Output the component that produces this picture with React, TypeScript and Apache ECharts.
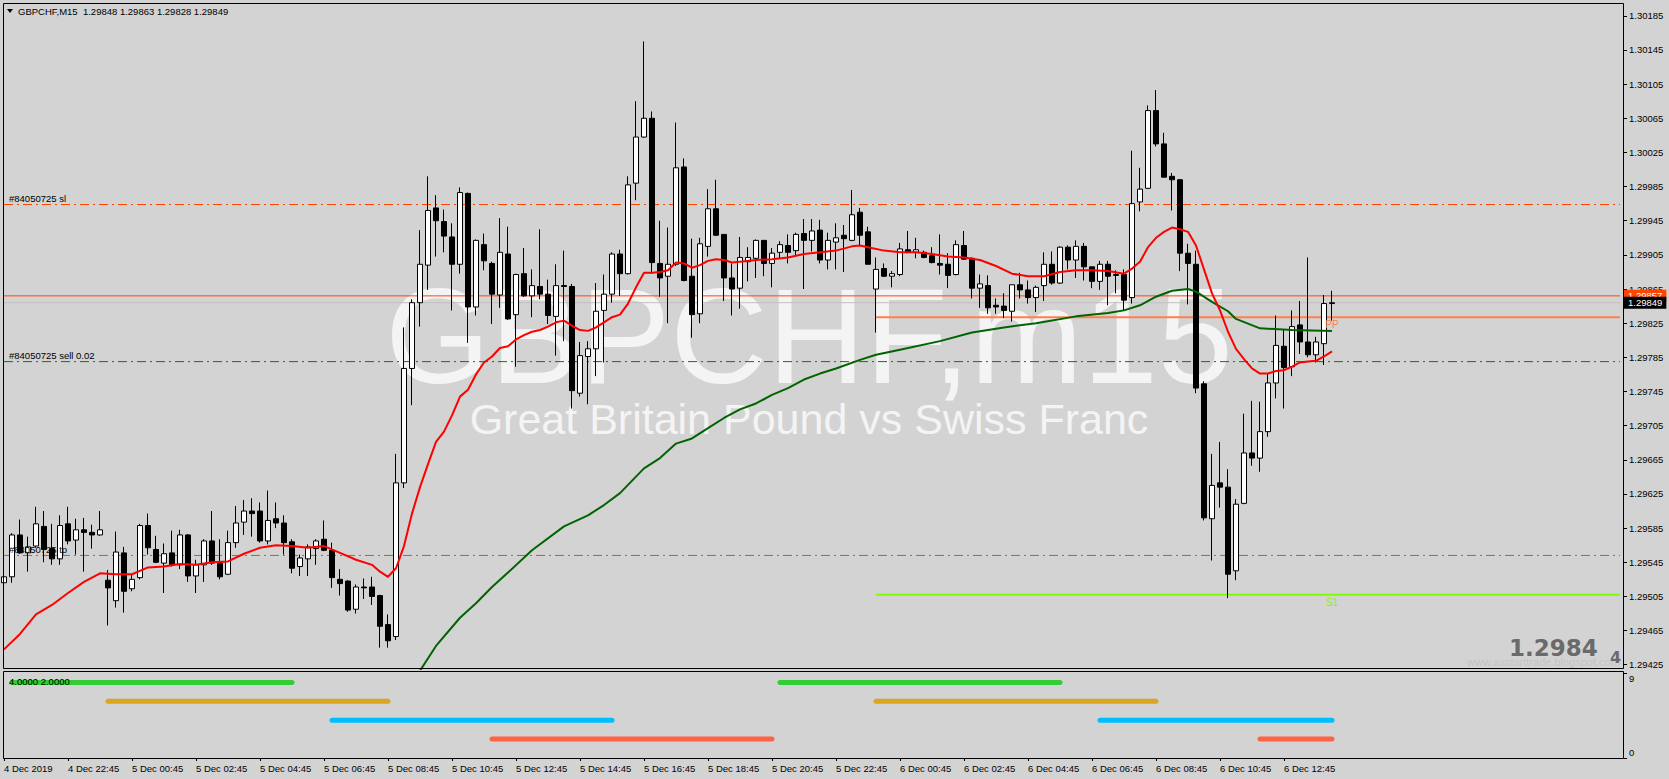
import React, { useEffect, useRef } from 'react';
import * as echarts from 'echarts';

const FONT = '"Liberation Sans", Arial, sans-serif';

// ---------- categories / ticks ----------
const BAR_COUNT = 167;
const SLOT_COUNT = 203;
const tickIndex = [0, 8, 16, 24, 32, 40, 48, 56, 64, 72, 80, 88, 96, 104, 112, 120, 128, 136, 144, 152, 160];
const tickLabels = [
  '4 Dec 2019', '4 Dec 22:45', '5 Dec 00:45', '5 Dec 02:45', '5 Dec 04:45', '5 Dec 06:45',
  '5 Dec 08:45', '5 Dec 10:45', '5 Dec 12:45', '5 Dec 14:45', '5 Dec 16:45', '5 Dec 18:45',
  '5 Dec 20:45', '5 Dec 22:45', '6 Dec 00:45', '6 Dec 02:45', '6 Dec 04:45', '6 Dec 06:45',
  '6 Dec 08:45', '6 Dec 10:45', '6 Dec 12:45',
];
const priceTicks = [
  1.29425, 1.29465, 1.29505, 1.29545, 1.29585, 1.29625, 1.29665, 1.29705, 1.29745, 1.29785,
  1.29825, 1.29865, 1.29905, 1.29945, 1.29985, 1.30025, 1.30065, 1.30105, 1.30145, 1.30185,
];
const PRICE_MIN = 1.2942;
const PRICE_MAX = 1.302;

// ---------- candles: [open, close, low, high] ----------
const candles = [
  [1.29521, 1.29528, 1.29504, 1.29531], [1.29528, 1.29577, 1.29521, 1.29579], [1.29577, 1.29556, 1.29555, 1.29595],
  [1.29556, 1.29563, 1.29534, 1.29575], [1.29564, 1.2959, 1.29562, 1.2961], [1.29587, 1.2956, 1.29545, 1.29605],
  [1.29561, 1.29549, 1.29542, 1.2959], [1.29549, 1.29588, 1.29542, 1.296], [1.2959, 1.2957, 1.29566, 1.2961],
  [1.29571, 1.29583, 1.29554, 1.29596], [1.29583, 1.2958, 1.29534, 1.29597], [1.2958, 1.29577, 1.29561, 1.29589],
  [1.29577, 1.29583, 1.29576, 1.29605], [1.29524, 1.29515, 1.29471, 1.29536], [1.295, 1.29557, 1.29492, 1.29581],
  [1.29556, 1.29511, 1.29486, 1.29563], [1.29514, 1.29525, 1.29511, 1.29531], [1.29527, 1.29588, 1.29525, 1.2959],
  [1.29588, 1.29562, 1.29554, 1.29602], [1.2956, 1.29545, 1.29544, 1.29576], [1.29544, 1.29555, 1.29509, 1.29567],
  [1.29556, 1.29542, 1.2954, 1.29582], [1.29542, 1.29577, 1.29537, 1.29583], [1.29577, 1.29529, 1.29522, 1.29578],
  [1.29529, 1.29542, 1.29509, 1.29548], [1.29542, 1.2957, 1.29522, 1.29572], [1.2957, 1.29544, 1.29542, 1.29605],
  [1.29545, 1.29528, 1.29525, 1.29572], [1.29531, 1.29568, 1.2953, 1.29582], [1.29568, 1.29591, 1.29562, 1.29611],
  [1.29592, 1.29605, 1.29577, 1.29618], [1.29605, 1.29602, 1.29575, 1.2962], [1.29605, 1.2957, 1.29568, 1.29615],
  [1.2957, 1.29594, 1.29566, 1.29629], [1.29596, 1.29591, 1.29585, 1.29615], [1.29591, 1.29568, 1.29554, 1.296],
  [1.29569, 1.29538, 1.29532, 1.29572], [1.2954, 1.2955, 1.29529, 1.29554], [1.29549, 1.29563, 1.29529, 1.29566],
  [1.29561, 1.2957, 1.29542, 1.29572], [1.29572, 1.29559, 1.29558, 1.29594], [1.29559, 1.29527, 1.29515, 1.29568],
  [1.29525, 1.2952, 1.29506, 1.29537], [1.29523, 1.29489, 1.29487, 1.29524], [1.2949, 1.29516, 1.29485, 1.29519],
  [1.29516, 1.29515, 1.29502, 1.29526], [1.29516, 1.29505, 1.29495, 1.29528], [1.29506, 1.2947, 1.29445, 1.29507],
  [1.29472, 1.29453, 1.29445, 1.29484], [1.29458, 1.29638, 1.29454, 1.29672], [1.29638, 1.29772, 1.29632, 1.2982],
  [1.29772, 1.29849, 1.29729, 1.29853], [1.29849, 1.29894, 1.29821, 1.29934], [1.29893, 1.29957, 1.29864, 1.29997],
  [1.2996, 1.29945, 1.29903, 1.29975], [1.29944, 1.29927, 1.29908, 1.29958], [1.29926, 1.29894, 1.2984, 1.29942],
  [1.29894, 1.29978, 1.29883, 1.29984], [1.29977, 1.29844, 1.29802, 1.29978], [1.29844, 1.29922, 1.29834, 1.29923],
  [1.29917, 1.29898, 1.29887, 1.2993], [1.29895, 1.29859, 1.29824, 1.29897], [1.29858, 1.29908, 1.29843, 1.29948],
  [1.29906, 1.2983, 1.29829, 1.29938], [1.29835, 1.29882, 1.29774, 1.29883], [1.29883, 1.29857, 1.29856, 1.29913],
  [1.29857, 1.29869, 1.29832, 1.29888], [1.29868, 1.29859, 1.29853, 1.29935], [1.29859, 1.29834, 1.29824, 1.29876],
  [1.29833, 1.29869, 1.29787, 1.29894], [1.29869, 1.29868, 1.29804, 1.2991], [1.29868, 1.29746, 1.29725, 1.29871],
  [1.29743, 1.29787, 1.29739, 1.29803], [1.29786, 1.29795, 1.2973, 1.29804], [1.29795, 1.29839, 1.29763, 1.29872],
  [1.2984, 1.29859, 1.29779, 1.29882], [1.29859, 1.29906, 1.29849, 1.29908], [1.29906, 1.29883, 1.29857, 1.29911],
  [1.29883, 1.29987, 1.29882, 1.29997], [1.29989, 1.30043, 1.29969, 1.30085], [1.30043, 1.30065, 1.30042, 1.30155],
  [1.30065, 1.29896, 1.29883, 1.30073], [1.29895, 1.29878, 1.29856, 1.29945], [1.2988, 1.29894, 1.29825, 1.29937],
  [1.29894, 1.30007, 1.29892, 1.3006], [1.30008, 1.29875, 1.29874, 1.30018], [1.2988, 1.29835, 1.29808, 1.29924],
  [1.29836, 1.29918, 1.29825, 1.29925], [1.29915, 1.29959, 1.29903, 1.29982], [1.29959, 1.29928, 1.29927, 1.29993],
  [1.29929, 1.29878, 1.29851, 1.29929], [1.29878, 1.29865, 1.29834, 1.29895], [1.29866, 1.29902, 1.29842, 1.29926],
  [1.29897, 1.29902, 1.29874, 1.29914], [1.29901, 1.29922, 1.29878, 1.29923], [1.29922, 1.29895, 1.2988, 1.29922],
  [1.29895, 1.29907, 1.29867, 1.29913], [1.29908, 1.29917, 1.29901, 1.29921], [1.29916, 1.29908, 1.29895, 1.29929],
  [1.2991, 1.29929, 1.29903, 1.29931], [1.2993, 1.29922, 1.29865, 1.29947], [1.29922, 1.29933, 1.29909, 1.29947],
  [1.29934, 1.29899, 1.29895, 1.29946], [1.29899, 1.29922, 1.29888, 1.29931], [1.2992, 1.29925, 1.29888, 1.29942],
  [1.29928, 1.29924, 1.29885, 1.2994], [1.29922, 1.29952, 1.29921, 1.29981], [1.29955, 1.29928, 1.29915, 1.2996],
  [1.29932, 1.29894, 1.29894, 1.29938], [1.29865, 1.29888, 1.29814, 1.29902], [1.29889, 1.2988, 1.29879, 1.29895],
  [1.2988, 1.29883, 1.29867, 1.29886], [1.29882, 1.29912, 1.2988, 1.29919], [1.29911, 1.29908, 1.29907, 1.29933],
  [1.29908, 1.29911, 1.29901, 1.29925], [1.29908, 1.29902, 1.29901, 1.2991], [1.29904, 1.29896, 1.29895, 1.29914],
  [1.29895, 1.29893, 1.29882, 1.29929], [1.29894, 1.29881, 1.29866, 1.29907], [1.29882, 1.29917, 1.29881, 1.29922],
  [1.29916, 1.299, 1.29899, 1.29933], [1.29901, 1.29866, 1.29854, 1.29902], [1.29866, 1.29871, 1.29843, 1.29882],
  [1.29869, 1.29843, 1.29836, 1.29881], [1.29846, 1.29844, 1.29836, 1.29854], [1.29845, 1.2984, 1.29831, 1.2986],
  [1.29839, 1.2987, 1.29827, 1.2987], [1.2987, 1.29864, 1.29854, 1.29884], [1.29864, 1.29855, 1.29848, 1.29875],
  [1.29855, 1.29867, 1.29838, 1.29869], [1.29869, 1.29894, 1.29851, 1.29908], [1.29894, 1.29872, 1.2987, 1.29909],
  [1.29872, 1.29914, 1.29871, 1.29915], [1.29914, 1.29899, 1.29888, 1.29916], [1.29899, 1.29915, 1.29878, 1.29922],
  [1.29915, 1.29891, 1.29875, 1.29919], [1.29891, 1.29874, 1.29866, 1.29891], [1.29874, 1.29894, 1.29864, 1.29898],
  [1.29894, 1.2988, 1.29846, 1.29898], [1.29882, 1.29881, 1.2986, 1.29887], [1.29882, 1.29852, 1.2984, 1.29888],
  [1.29855, 1.29965, 1.29848, 1.30027], [1.29967, 1.29982, 1.29956, 1.30007], [1.29983, 1.30074, 1.29982, 1.3008],
  [1.30074, 1.30035, 1.30032, 1.30098], [1.30035, 1.29996, 1.29996, 1.30048], [1.29997, 1.29993, 1.29957, 1.30001],
  [1.29993, 1.29907, 1.29886, 1.29994], [1.29907, 1.29895, 1.29847, 1.29918], [1.29894, 1.29749, 1.29743, 1.2991],
  [1.29754, 1.29597, 1.29594, 1.29757], [1.29596, 1.29635, 1.29547, 1.29672], [1.29638, 1.29633, 1.29609, 1.29686],
  [1.29633, 1.29531, 1.29503, 1.29654], [1.29535, 1.29613, 1.29524, 1.29619], [1.29614, 1.29673, 1.29613, 1.29719],
  [1.29673, 1.29667, 1.29658, 1.29734], [1.29667, 1.29698, 1.29651, 1.29733], [1.29698, 1.29755, 1.29692, 1.29766],
  [1.29755, 1.29799, 1.29737, 1.29834], [1.29798, 1.29773, 1.29725, 1.29817], [1.29774, 1.29821, 1.29763, 1.2984],
  [1.29823, 1.29803, 1.29789, 1.29851], [1.29803, 1.29788, 1.29785, 1.29902], [1.29788, 1.29803, 1.29779, 1.29809],
  [1.29801, 1.29848, 1.29776, 1.29858], [1.29848, 1.29849, 1.29828, 1.29863],
];

// ---------- moving averages: [barIndex, price] ----------
const redMA = [
  [0, 1.29443], [2, 1.29461], [4, 1.29484], [6, 1.29495], [8, 1.29509], [10, 1.29522], [12, 1.29532],
  [14, 1.29531], [16, 1.29531], [18, 1.29539], [20, 1.2954], [22, 1.29543], [24, 1.29542], [26, 1.29545],
  [28, 1.29546], [30, 1.29555], [32, 1.29562], [34, 1.29565], [36, 1.29564], [38, 1.29562], [40, 1.29564],
  [42, 1.29556], [44, 1.29548], [46, 1.29542], [47, 1.29534], [48, 1.29528], [49, 1.29538], [50, 1.29564],
  [51, 1.29602], [52, 1.29633], [53, 1.2966], [54, 1.29686], [55, 1.29698], [56, 1.29717], [57, 1.29739],
  [58, 1.29747], [59, 1.29765], [60, 1.29779], [61, 1.29786], [62, 1.29796], [63, 1.29798], [64, 1.29806],
  [65, 1.29811], [66, 1.29815], [67, 1.29817], [68, 1.29821], [69, 1.29826], [70, 1.29828], [71, 1.29822],
  [72, 1.29817], [73, 1.29816], [74, 1.2982], [75, 1.29826], [76, 1.29832], [77, 1.29835], [78, 1.29848],
  [79, 1.29867], [80, 1.29884], [81, 1.29884], [82, 1.29885], [83, 1.29887], [84, 1.29896], [85, 1.29895],
  [86, 1.2989], [87, 1.29893], [88, 1.29898], [89, 1.299], [90, 1.29899], [91, 1.29896], [92, 1.29897],
  [94, 1.29899], [96, 1.299], [98, 1.29902], [100, 1.29906], [102, 1.29908], [104, 1.2991], [106, 1.29915],
  [107, 1.29916], [108, 1.29914], [110, 1.2991], [112, 1.29908], [114, 1.29908], [116, 1.29906], [118, 1.29903],
  [120, 1.29902], [122, 1.29899], [124, 1.29892], [126, 1.29883], [128, 1.2988], [130, 1.2988], [132, 1.29885],
  [134, 1.29887], [136, 1.29887], [138, 1.29886], [140, 1.29883], [141, 1.29889], [142, 1.29897], [143, 1.29914],
  [144, 1.29925], [145, 1.29932], [146, 1.29937], [147, 1.29935], [148, 1.29932], [149, 1.29916], [150, 1.29888],
  [151, 1.2986], [152, 1.2984], [153, 1.29815], [154, 1.29795], [155, 1.29783], [156, 1.29772], [157, 1.29766],
  [158, 1.29766], [159, 1.29769], [160, 1.2977], [161, 1.29774], [162, 1.29779], [163, 1.2978], [164, 1.29781],
  [165, 1.29786], [166, 1.29792],
];
const greenMA = [
  [52, 1.29418], [54, 1.29447], [57, 1.2948], [59, 1.29497], [61, 1.29516], [63, 1.29533], [66, 1.29559],
  [70, 1.29587], [73, 1.296], [75, 1.29612], [77, 1.29626], [80, 1.29655], [82, 1.29667], [84, 1.29684],
  [86, 1.2969], [88, 1.29702], [90, 1.29714], [92, 1.29724], [94, 1.29731], [96, 1.29741], [98, 1.29749],
  [100, 1.29759], [102, 1.29766], [104, 1.29772], [107, 1.29782], [109, 1.29788], [112, 1.29794], [117, 1.29804],
  [121, 1.29814], [125, 1.2982], [129, 1.29825], [134, 1.29833], [138, 1.29837], [140, 1.2984], [142, 1.29846],
  [144, 1.29856], [146, 1.29863], [148, 1.29865], [149, 1.29862], [151, 1.2985], [153, 1.29839], [154, 1.2983],
  [157, 1.29819], [161, 1.29817], [166, 1.29816],
];

// ---------- price levels ----------
const SL_PRICE = 1.29964;
const TP_PRICE = 1.29553;
const ENTRY_PRICE = 1.2978;
const ASK_PRICE = 1.29857;
const BID_PRICE = 1.29849;
const PP_PRICE = 1.29832;
const S1_PRICE = 1.29507;
const PIVOT_START = 109;

// ---------- session bars (sub window): [startBar, endBar] ----------
const greenSessions = [[1, 36], [97, 132]];
const goldSessions = [[13, 48], [109, 144]];
const blueSessions = [[41, 76], [137, 166]];
const redSessions = [[61, 96], [157, 166]];
const GREEN_LEVEL = 8;
const GOLD_LEVEL = 6;
const BLUE_LEVEL = 4;
const RED_LEVEL = 2;

const categories = Array.from({ length: SLOT_COUNT }, (_, i) => String(i));
const showTick = (index: number) => tickIndex.includes(index);

function sessionSeries(ranges: number[][], level: number, color: string) {
  return ranges.map((r) => ({
    type: 'line',
    xAxisIndex: 1,
    yAxisIndex: 1,
    data: [[r[0], level], [r[1], level]],
    symbol: 'none',
    silent: true,
    lineStyle: { color, width: 5, cap: 'round' },
    z: 3,
  }));
}

function levelSeries(price: number, color: string, type: any, points: number[][], extra: any = {}) {
  return {
    type: 'line',
    xAxisIndex: 0,
    yAxisIndex: 0,
    data: points.map((p) => [p[0], price]),
    symbol: 'none',
    silent: true,
    z: 1,
    lineStyle: { color, width: 1, type },
    ...extra,
  };
}

function startLabel(price: number, text: string) {
  return {
    symbol: 'rect',
    symbolSize: 1,
    silent: true,
    itemStyle: { color: 'rgba(0,0,0,0)' },
    label: { show: true, position: 'right', distance: 0, formatter: text, color: '#000', fontSize: 9.5, fontFamily: FONT, offset: [4.5, -6] },
    data: [{ coord: [0, price] }],
  };
}

function boxLabel(price: number, bg: string) {
  return {
    symbol: 'rect',
    symbolSize: 1,
    silent: true,
    itemStyle: { color: 'rgba(0,0,0,0)' },
    label: {
      show: true,
      position: 'right',
      distance: 0,
      offset: [3.5, 0],
      formatter: price.toFixed(5),
      color: '#fff',
      backgroundColor: bg,
      padding: [1, 4, 1, 4],
      fontSize: 9.5,
      fontFamily: FONT,
    },
    data: [{ coord: [SLOT_COUNT - 1, price] }],
  };
}

const FULL_SPAN = [[0], [SLOT_COUNT - 1]];
const DASH_DOT = [9, 4, 2, 4];

export default function App() {
  const ref = useRef<HTMLDivElement>(null);
  useEffect(() => {
    document.body.style.margin = '0';
    if (!ref.current) return;
    const chart = echarts.init(ref.current, undefined, { renderer: 'svg' });
    const option: any = {
      animation: false,
      backgroundColor: '#d3d3d3',
      grid: [
        { left: 0, top: 3, width: 1624, height: 666 },
        { left: 0, top: 673, width: 1624, height: 85 },
      ],
      xAxis: [
        { type: 'category', gridIndex: 0, data: categories, boundaryGap: true, show: false },
        {
          type: 'category',
          gridIndex: 1,
          data: categories,
          boundaryGap: true,
          axisLine: { show: false },
          splitLine: { show: false },
          axisTick: { show: true, interval: showTick, alignWithLabel: true, length: 3, lineStyle: { color: '#000' } },
          axisLabel: {
            interval: showTick,
            formatter: (_v: string, index: number) => {
              const k = tickIndex.indexOf(index);
              return k >= 0 ? tickLabels[k] : '';
            },
            align: 'left',
            margin: 5,
            color: '#000',
            fontSize: 9.5,
            fontFamily: FONT,
          },
        },
      ],
      yAxis: [
        {
          type: 'value',
          gridIndex: 0,
          position: 'right',
          min: PRICE_MIN,
          max: PRICE_MAX,
          axisLine: { show: false },
          splitLine: { show: false },
          axisTick: { show: true, length: 3, customValues: priceTicks, lineStyle: { color: '#000' } },
          axisLabel: {
            customValues: priceTicks,
            formatter: (v: number) => v.toFixed(5),
            margin: 5,
            color: '#000',
            fontSize: 9.5,
            fontFamily: FONT,
          },
        },
        {
          type: 'value',
          gridIndex: 1,
          position: 'right',
          min: 0,
          max: 9,
          axisLine: { show: false },
          splitLine: { show: false },
          axisTick: { show: true, length: 3, customValues: [0, 9], lineStyle: { color: '#000' } },
          axisLabel: { show: false },
        },
      ],
      series: [
        levelSeries(SL_PRICE, '#ff4500', DASH_DOT, FULL_SPAN, { markPoint: startLabel(SL_PRICE, '#84050725 sl') }),
        levelSeries(TP_PRICE, '#ff4500', DASH_DOT, FULL_SPAN, { markPoint: startLabel(TP_PRICE, '#84050725 tp') }),
        levelSeries(ENTRY_PRICE, '#008000', DASH_DOT, FULL_SPAN, { markPoint: startLabel(ENTRY_PRICE, '#84050725 sell 0.02') }),
        levelSeries(ASK_PRICE, '#ff4500', 'solid', FULL_SPAN, { markPoint: boxLabel(ASK_PRICE, '#ff4500') }),
        levelSeries(BID_PRICE, '#c0c0c0', 'solid', FULL_SPAN, { markPoint: boxLabel(BID_PRICE, '#000000'), z: 1.1 }),
        {
          ...levelSeries(PP_PRICE, '#ff7f50', 'solid', [[PIVOT_START], [SLOT_COUNT - 1]]),
          lineStyle: { color: '#ff7f50', width: 2 },
          markPoint: {
            symbol: 'rect',
            symbolSize: 1,
            silent: true,
            itemStyle: { color: 'rgba(0,0,0,0)' },
            label: { show: true, position: 'bottom', distance: 2, formatter: 'PP', color: '#ff7f50', fontSize: 10, fontFamily: FONT },
            data: [{ coord: [BAR_COUNT - 1, PP_PRICE] }],
          },
        },
        {
          ...levelSeries(S1_PRICE, '#7cfc00', 'solid', [[PIVOT_START], [SLOT_COUNT - 1]]),
          lineStyle: { color: '#7cfc00', width: 2 },
          markPoint: {
            symbol: 'rect',
            symbolSize: 1,
            silent: true,
            itemStyle: { color: 'rgba(0,0,0,0)' },
            label: { show: true, position: 'bottom', distance: 2, formatter: 'S1', color: '#7cfc00', fontSize: 10, fontFamily: FONT },
            data: [{ coord: [BAR_COUNT - 1, S1_PRICE] }],
          },
        },
        {
          type: 'candlestick',
          xAxisIndex: 0,
          yAxisIndex: 0,
          data: candles,
          barWidth: 5,
          z: 2,
          itemStyle: {
            color: '#ffffff',
            color0: '#000000',
            borderColor: '#000000',
            borderColor0: '#000000',
            borderWidth: 1,
          },
        },
        {
          type: 'line',
          xAxisIndex: 0,
          yAxisIndex: 0,
          data: greenMA,
          symbol: 'none',
          silent: true,
          z: 3,
          lineStyle: { color: '#006400', width: 2 },
        },
        {
          type: 'line',
          xAxisIndex: 0,
          yAxisIndex: 0,
          data: redMA,
          symbol: 'none',
          silent: true,
          z: 3,
          lineStyle: { color: '#ff0000', width: 2 },
        },
        ...sessionSeries(greenSessions, GREEN_LEVEL, '#32cd32'),
        ...sessionSeries(goldSessions, GOLD_LEVEL, '#daa520'),
        ...sessionSeries(blueSessions, BLUE_LEVEL, '#00bfff'),
        ...sessionSeries(redSessions, RED_LEVEL, '#ff6347'),
      ],
      graphic: [
        {
          type: 'text', x: 809, y: 336, z: -10, silent: true,
          style: { text: 'GBPCHF,m15', fill: '#f4f4f4', font: `135px ${FONT}`, textAlign: 'center', align: 'center', textVerticalAlign: 'middle', verticalAlign: 'middle' },
        },
        {
          type: 'text', x: 809, y: 419, z: -10, silent: true,
          style: { text: 'Great Britain Pound vs Swiss Franc', fill: '#f4f4f4', font: `43px ${FONT}`, textAlign: 'center', align: 'center', textVerticalAlign: 'middle', verticalAlign: 'middle' },
        },
        {
          type: 'text', x: 1467, y: 662, z: -9, silent: true,
          style: { text: 'www.asstarttrade.blogspot.com', fill: '#c3c3c3', font: `11px ${FONT}`, textVerticalAlign: 'middle', verticalAlign: 'middle' },
        },
        {
          type: 'text', x: 1509, y: 648, z: -8, silent: true,
          style: { text: '1.2984', fill: '#6a6a6a', font: 'bold 23px "DejaVu Sans", sans-serif', textVerticalAlign: 'middle', verticalAlign: 'middle' },
        },
        {
          type: 'text', x: 1610, y: 657, z: -8, silent: true,
          style: { text: '4', fill: '#6a6a6a', font: 'bold 16px "DejaVu Sans", sans-serif', textVerticalAlign: 'middle', verticalAlign: 'middle' },
        },
        {
          type: 'polygon', z: 50, silent: true,
          shape: { points: [[7, 9], [13, 9], [10, 13]] },
          style: { fill: '#000' },
        },
        {
          type: 'text', x: 18, y: 11, z: 50, silent: true,
          style: { text: 'GBPCHF,M15  1.29848 1.29863 1.29828 1.29849', fill: '#000', font: `9.5px ${FONT}`, textVerticalAlign: 'middle', verticalAlign: 'middle' },
        },
        {
          type: 'text', x: 9, y: 681, z: 50, silent: true,
          style: { text: '4.0000 2.0000', fill: '#000', font: `9.5px ${FONT}`, textVerticalAlign: 'middle', verticalAlign: 'middle' },
        },
        {
          type: 'text', x: 1629, y: 678, z: 50, silent: true,
          style: { text: '9', fill: '#000', font: `9.5px ${FONT}`, textVerticalAlign: 'middle', verticalAlign: 'middle' },
        },
        {
          type: 'text', x: 1629, y: 752, z: 50, silent: true,
          style: { text: '0', fill: '#000', font: `9.5px ${FONT}`, textVerticalAlign: 'middle', verticalAlign: 'middle' },
        },
        {
          type: 'rect', z: 100, silent: true,
          shape: { x: 3.5, y: 3.5, width: 1620, height: 665 },
          style: { fill: 'none', stroke: '#000', lineWidth: 1 },
        },
        {
          type: 'rect', z: 100, silent: true,
          shape: { x: 3.5, y: 671.5, width: 1620, height: 87 },
          style: { fill: 'none', stroke: '#000', lineWidth: 1 },
        },
      ],
    };
    chart.setOption(option);
    return () => chart.dispose();
  }, []);
  return <div ref={ref} style={{ width: 1669, height: 779 }} />;
}
